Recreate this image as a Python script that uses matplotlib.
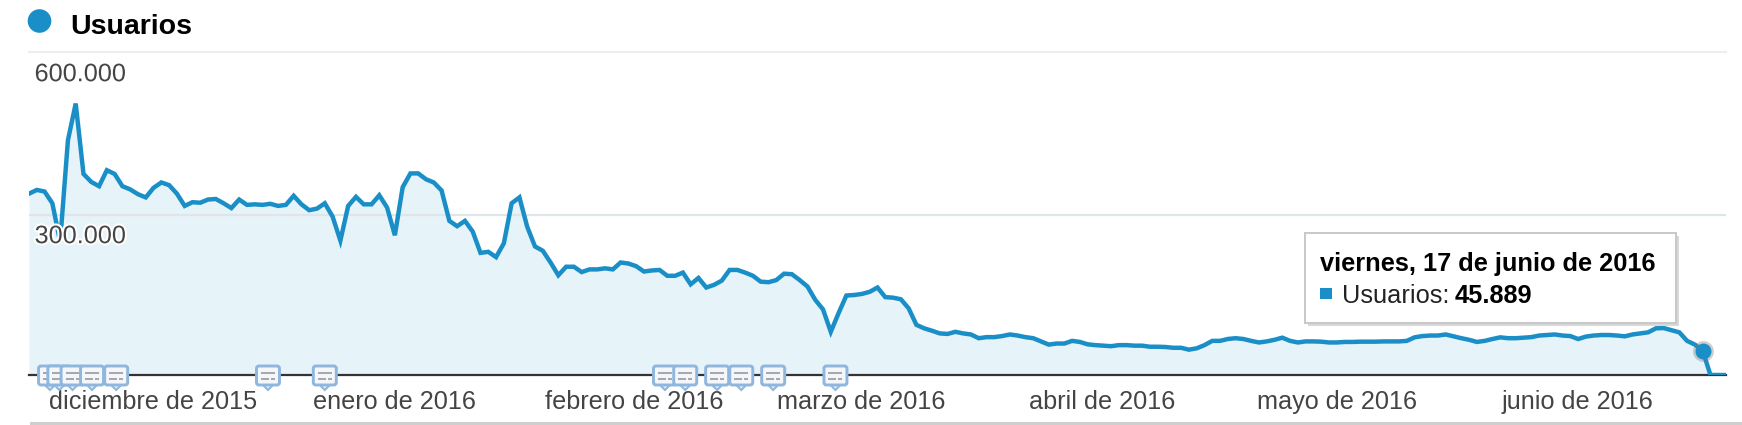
import numpy as np
import matplotlib
matplotlib.use("Agg")
import matplotlib.pyplot as plt
import matplotlib.patheffects as pe
from matplotlib.patches import FancyBboxPatch, Polygon, Rectangle, Circle
from matplotlib.ticker import FuncFormatter

plt.rcParams['font.family'] = ['Liberation Sans', 'DejaVu Sans']

# daily users, starts 15 nov 2015
users = [
    340000, 347000, 344000, 322000, 250000, 440000, 509000, 377000, 362000, 354000,
    384000, 377000, 354000, 348000, 339000, 333000, 351000, 361000, 356000, 340000,
    317000, 324000, 323000, 329000, 330000, 322000, 313000, 329000, 319000, 320000,
    319000, 321000, 317000, 319000, 336000, 320000, 309000, 312000, 322000, 297000,
    252000, 317000, 334000, 320000, 320000, 337000, 314000, 262000, 352000, 378000,
    378000, 367000, 361000, 346000, 289000, 279000, 289000, 269000, 229000, 231000,
    221000, 247000, 322000, 333000, 278000, 241000, 233000, 211000, 187000, 203000,
    203000, 193000, 198000, 198000, 200000, 198000, 211000, 209000, 204000, 194000,
    196000, 197000, 186000, 186000, 192000, 170000, 182000, 164000, 169000, 177000,
    197000, 197000, 192000, 186000, 175000, 174000, 178000, 190000, 189000, 178000,
    166000, 141000, 123000, 81000, 116000, 149000, 150000, 152000, 156000, 164000,
    146000, 145000, 142000, 125000, 94000, 87500, 83000, 78000, 77000, 81000,
    78000, 76000, 69000, 71000, 71000, 73000, 76000, 74000, 71000, 69000,
    63000, 57000, 59000, 59000, 64000, 62000, 57500, 56000, 55000, 54000,
    56000, 56000, 55000, 55000, 53000, 53000, 52500, 51000, 51000, 47500,
    50000, 56000, 64000, 64000, 67500, 69000, 67500, 64000, 61000, 63000,
    66000, 70000, 64000, 61000, 63000, 63000, 62500, 61000, 61000, 62000,
    62000, 62500, 62500, 62500, 63000, 63000, 63000, 64000, 70600, 73000,
    74000, 74000, 76000, 72500, 69000, 66000, 62000, 64000, 67500, 70600,
    69000, 69000, 70000, 71000, 74000, 75000, 76000, 74000, 73000, 67500,
    72000, 74000, 75000, 75000, 74000, 72500, 76000, 78000, 80000, 87500,
    88000, 84000, 80000, 64000, 57000, 45889, 0, 0, 0,
]
days = np.arange(len(users))

month_labels = ['diciembre de 2015', 'enero de 2016', 'febrero de 2016', 'marzo de 2016',
                'abril de 2016', 'mayo de 2016', 'junio de 2016']
month_days = [2.6, 36.5, 66.3, 96.1, 128.5, 157.7, 189.2]
y_ticks = [300000, 600000]
note_days = [2.7, 3.9, 5.6, 8.1, 11.2, 30.7, 38.0, 81.7, 84.3, 88.4, 91.5, 95.6, 103.6]
hover_day = 215

BLUE = '#1a8fc7'
TEXT = '#444444'

W, H = 1742, 425
fig = plt.figure(figsize=(W / 100, H / 100), dpi=100)

ax = fig.add_axes([29 / W, (H - 375) / H, 1697 / W, 323 / H])
ax.set_xlim(0, 218)
ax.set_ylim(0, 323 * 1875)
ax.patch.set_alpha(0)

ax.fill_between(days, users, 0, color='#e6f3f9', lw=0, zorder=1)
ax.axhline(300000, color='#dfe6ea', lw=1.6, zorder=1.5)
ax.plot(days, users, color=BLUE, lw=3.2, solid_joinstyle='miter', zorder=2.6)

# hover point
ax.plot(days[hover_day], users[hover_day], 'o', ms=15, color='#777777', alpha=0.35, mew=0, zorder=2.7)
ax.plot(days[hover_day], users[hover_day], 'o', ms=11.5, color=BLUE, mew=0, zorder=2.8)

for s in ['left', 'right']:
    ax.spines[s].set_visible(False)
ax.spines['top'].set_color('#eeeeee')
ax.spines['top'].set_linewidth(1.6)
ax.spines['bottom'].set_color('#333333')
ax.spines['bottom'].set_linewidth(1.6)
ax.xaxis.set_zorder(3)
ax.yaxis.set_zorder(3)

ax.set_xticks(month_days)
ax.set_xticklabels(month_labels, ha='left', fontsize=18.2, color=TEXT)
ax.tick_params(axis='x', length=0, pad=11)

ax.set_yticks(y_ticks)
ax.yaxis.set_major_formatter(FuncFormatter(lambda v, p: f'{int(v):,}'.replace(',', '.')))
ax.tick_params(axis='y', length=0, pad=-4, labelsize=18.2, labelcolor=TEXT)
for lab, drop in zip(ax.get_yticklabels(), [6.6, 5.2]):
    offset = matplotlib.transforms.ScaledTranslation(0, -drop / 72, fig.dpi_scale_trans)
    lab.set_ha('left')
    lab.set_va('top')
    lab.set_transform(lab.get_transform() + offset)
    lab.set_path_effects([pe.withStroke(linewidth=3, foreground='white')])

# overlay in pixel units for the page furniture around the chart
ov = fig.add_axes([0, 0, 1, 1])
ov.set_xlim(0, W)
ov.set_ylim(H, 0)
ov.axis('off')

ov.add_patch(Circle((39.5, 21), 11.8, color=BLUE, lw=0))
ov.text(70.5, 33.5, 'Usuarios', fontsize=20.5, fontweight='bold', color='black', va='baseline')

ov.add_patch(Rectangle((30, 422), W - 30, 3, color='#cfcfcf', lw=0))


def draw_note(x):
    ov.add_patch(Polygon([[x - 5, 385], [x + 5, 385], [x, 390]], fc='#eef4fa', ec='#8fb6dc', lw=1.5))
    ov.add_patch(FancyBboxPatch((x - 11.5, 366), 23, 19, boxstyle='round,pad=0,rounding_size=2.5',
                                fc='#f3f6fa', ec='#8fb6dc', lw=2.1))
    ov.add_patch(Rectangle((x - 7, 372), 14, 2.4, color='#a8a8a8', lw=0))
    ov.add_patch(Rectangle((x - 7, 377.5), 8, 2.4, color='#a8a8a8', lw=0))
    ov.add_patch(Rectangle((x + 3, 377.5), 4, 2.4, color='#a8a8a8', lw=0))


for d in note_days:
    draw_note(29 + d * 1697 / 218)

# tooltip
ov.add_patch(Rectangle((1308, 236), 371, 90, fc='#d8d8d8', lw=0))
ov.add_patch(Rectangle((1305, 233), 371, 90, fc='white', ec='#c8c8c8', lw=1.4))
ov.text(1320, 271, 'viernes, 17 de junio de 2016', fontsize=18.3, fontweight='bold',
        color='black', va='baseline')
ov.add_patch(Rectangle((1320, 288), 12, 11, color=BLUE, lw=0))
ov.text(1342, 303, 'Usuarios:', fontsize=18.3, color='#222222', va='baseline')
ov.text(1455, 303, '45.889', fontsize=18.3, fontweight='bold', color='black', va='baseline')

fig.savefig('out.png', dpi=100)
